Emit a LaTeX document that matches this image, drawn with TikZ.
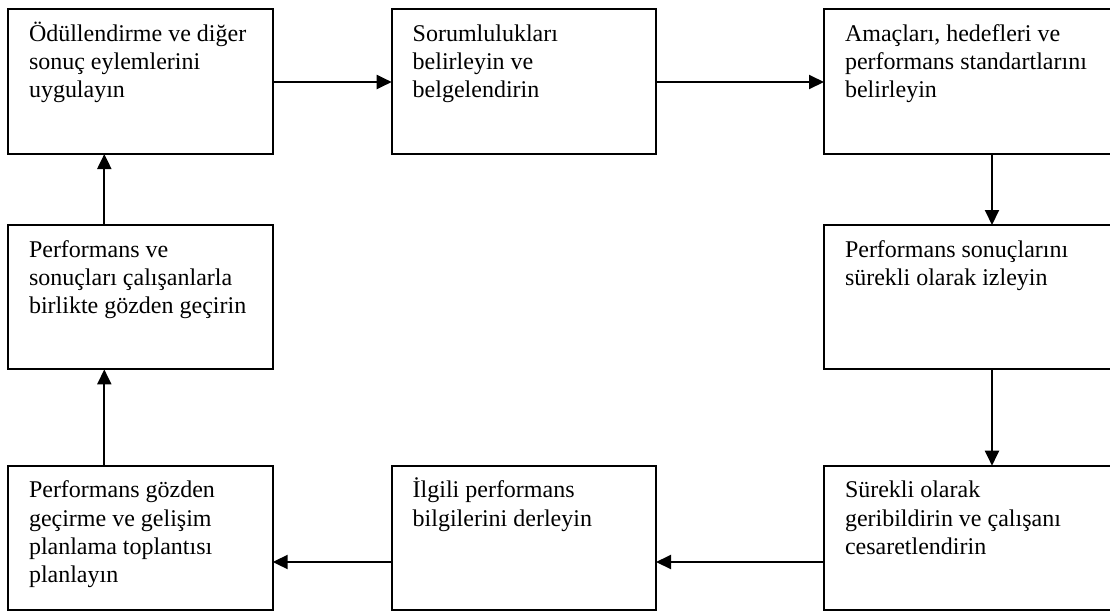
\documentclass[tikz,border=0pt]{standalone}
\usepackage{fontspec}
\setmainfont{Liberation Serif}
\usetikzlibrary{arrows.meta,calc}
\newcommand\bt[3]{\parbox[c][#2][t]{#1}{\fontsize{12pt}{14.15pt}\selectfont\leftskip=10.5pt\rightskip=0pt plus 1fil\parindent=0pt\rule{0pt}{16pt}#3}}
\tikzset{
  box/.style={draw=black, line width=1pt, anchor=north west, inner sep=0pt, outer sep=0pt},
  arr/.style={line width=1pt, -{Triangle[length=7.5pt,width=7pt]}}
}
\begin{document}
\begin{tikzpicture}[x=0.5pt,y=-0.5pt]
\useasboundingbox (0,0) rectangle (1110,612);
\clip (0,0) rectangle (1110,612);
% top row
\node[box] (b1) at (8,9) {\bt{132.35pt}{72.5pt}{Ödüllendirme ve diğer\\sonuç eylemlerini\\uygulayın}};
\node[box] (b2) at (391.7,9) {\bt{132.15pt}{72.5pt}{Sorumlulukları\\belirleyin ve\\belgelendirin}};
\node[box] (b3) at (824,9) {\bt{168pt}{72.5pt}{Amaçları, hedefleri ve\\performans standartlarını\\belirleyin}};
% middle row
\node[box] (b4) at (8,225) {\bt{132.35pt}{72.2pt}{Performans ve\\sonuçları çalışanlarla\\birlikte gözden geçirin}};
\node[box] (b5) at (824,225) {\bt{168pt}{72.2pt}{Performans sonuçlarını\\sürekli olarak izleyin}};
% bottom row
\node[box] (b6) at (8,465.7) {\bt{132.35pt}{72.15pt}{Performans gözden\\geçirme ve gelişim\\planlama toplantısı\\planlayın}};
\node[box] (b7) at (391.7,465.7) {\bt{132.15pt}{72.15pt}{İlgili performans\\bilgilerini derleyin}};
\node[box] (b8) at (824,465.7) {\bt{168pt}{72.15pt}{Sürekli olarak\\geribildirin ve çalışanı\\cesaretlendirin}};
% connectors
\draw[arr] (b1.east |- 0,82) -- (b2.west |- 0,82);
\draw[arr] (b2.east |- 0,82) -- (b3.west |- 0,82);
\draw[arr] (b3.south -| 992,0) -- (b5.north -| 992,0);
\draw[arr] (b5.south -| 992,0) -- (b8.north -| 992,0);
\draw[arr] (b8.west |- 0,562) -- (b7.east |- 0,562);
\draw[arr] (b7.west |- 0,562) -- (b6.east |- 0,562);
\draw[arr] (b6.north -| 104.3,0) -- (b4.south -| 104.3,0);
\draw[arr] (b4.north -| 104.3,0) -- (b1.south -| 104.3,0);
\end{tikzpicture}
\end{document}
